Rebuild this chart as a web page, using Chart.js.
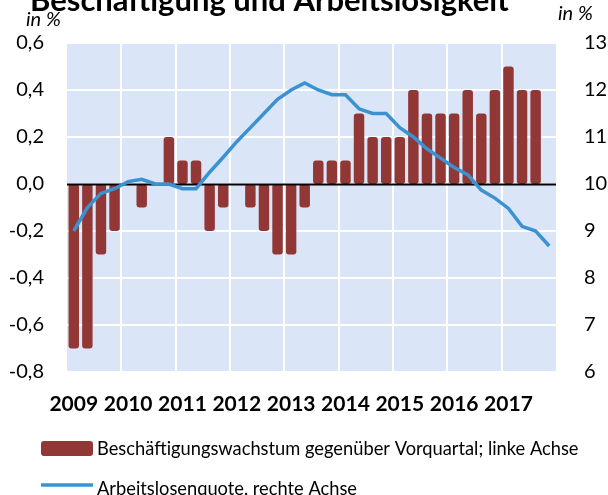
<!DOCTYPE html>
<html>
<head>
<meta charset="utf-8">
<script src="https://cdn.jsdelivr.net/npm/chart.js@4.4.1/dist/chart.umd.min.js"></script>
<style>
  html, body { margin: 0; padding: 0; background: #fff; }
  #wrap { position: relative; width: 608px; height: 495px; overflow: hidden; }
</style>
</head>
<body>
<div id="wrap"><canvas id="chart" width="608" height="495"></canvas></div>
<script>
// ================= Data =================
const quarters = [
  '2009Q1','2009Q2','2009Q3','2009Q4','2010Q1','2010Q2','2010Q3','2010Q4',
  '2011Q1','2011Q2','2011Q3','2011Q4','2012Q1','2012Q2','2012Q3','2012Q4',
  '2013Q1','2013Q2','2013Q3','2013Q4','2014Q1','2014Q2','2014Q3','2014Q4',
  '2015Q1','2015Q2','2015Q3','2015Q4','2016Q1','2016Q2','2016Q3','2016Q4',
  '2017Q1','2017Q2','2017Q3','2017Q4'
];
// Beschäftigungswachstum gegenüber Vorquartal (linke Achse, in %)
const employmentGrowth = [
  -0.7, -0.7, -0.3, -0.2,  0.0, -0.1,  0.0,  0.2,
   0.1,  0.1, -0.2, -0.1,  0.0, -0.1, -0.2, -0.3,
  -0.3, -0.1,  0.1,  0.1,  0.1,  0.3,  0.2,  0.2,
   0.2,  0.4,  0.3,  0.3,  0.3,  0.4,  0.3,  0.4,
   0.5,  0.4,  0.4, null
];
// Arbeitslosenquote (rechte Achse, in %)
const unemploymentRate = [
   9.0,  9.5,  9.8,  9.9, 10.05, 10.1, 10.0, 10.0,
   9.9,  9.9, 10.25, 10.57, 10.9, 11.2, 11.5, 11.8,
  12.0, 12.15, 12.0, 11.9, 11.9, 11.6, 11.5, 11.5,
  11.2, 11.0, 10.75, 10.55, 10.35, 10.2, 9.87, 9.7,
   9.48, 9.1, 9.0, 8.68
];
const leftTicks = { min: -0.8, max: 0.6, step: 0.2 };
const rightTicks = { min: 6, max: 13, step: 1 };

const titleText = 'Beschäftigung und Arbeitslosigkeit';
const unitText = 'in %';
const barLabel = 'Beschäftigungswachstum gegenüber Vorquartal; linke Achse';
const lineLabel = 'Arbeitslosenquote, rechte Achse';

const BAR_COLOR = '#913735';
const LINE_COLOR = '#3a92d0';
const PLOT_BG = '#dbe5f8';
const FONT = 'Lato, "DejaVu Sans", sans-serif';

// ================= Plugins =================
const plotBackground = {
  id: 'plotBackground',
  beforeDraw(chart) {
    const { ctx, chartArea: a } = chart;
    ctx.save();
    ctx.fillStyle = PLOT_BG;
    ctx.fillRect(a.left, a.top, a.right - a.left, a.bottom - a.top);
    ctx.restore();
  }
};

// zero line over the bars, under the line
const zeroLine = {
  id: 'zeroLine',
  afterDatasetDraw(chart, args) {
    if (args.index !== 0) return;
    const { ctx, chartArea: a } = chart;
    const y = Math.round(chart.scales.y.getPixelForValue(0)) + 0.5;
    ctx.save();
    ctx.strokeStyle = '#000';
    ctx.lineWidth = 2;
    ctx.beginPath();
    ctx.moveTo(a.left, y);
    ctx.lineTo(a.right, y);
    ctx.stroke();
    ctx.restore();
  }
};

const textsAndLegend = {
  id: 'textsAndLegend',
  afterDraw(chart) {
    const ctx = chart.ctx;
    ctx.save();
    ctx.fillStyle = '#000';
    ctx.textBaseline = 'alphabetic';

    // title (cut off at the top like the original)
    ctx.font = 'bold 31px ' + FONT;
    ctx.textAlign = 'left';
    ctx.fillText(titleText, 30, 11);

    // units
    ctx.font = 'italic 20px ' + FONT;
    ctx.fillText(unitText, 26, 26);
    ctx.fillText(unitText, 558, 20);

    // legend
    const bar = chart.data.datasets[0];
    const line = chart.data.datasets[1];
    ctx.fillStyle = bar.backgroundColor;
    ctx.beginPath();
    ctx.roundRect(41, 441, 52, 15, 3);
    ctx.fill();

    ctx.strokeStyle = line.borderColor;
    ctx.lineWidth = 3.5;
    ctx.beginPath();
    ctx.moveTo(41, 485);
    ctx.lineTo(93, 485);
    ctx.stroke();

    ctx.fillStyle = '#000';
    ctx.font = '18.3px ' + FONT;
    ctx.textBaseline = 'middle';
    ctx.fillText(bar.label, 97, 449);
    ctx.fillText(line.label, 97, 489);
    ctx.restore();
  }
};

// ================= Chart =================
const ctx = document.getElementById('chart').getContext('2d');

new Chart(ctx, {
  data: {
    labels: quarters,
    datasets: [
      {
        type: 'bar',
        label: barLabel,
        data: employmentGrowth,
        yAxisID: 'y',
        backgroundColor: BAR_COLOR,
        borderWidth: 0,
        borderRadius: 3,
        borderSkipped: false,
        categoryPercentage: 1,
        barPercentage: 0.77,
        order: 2
      },
      {
        type: 'line',
        label: lineLabel,
        data: unemploymentRate,
        yAxisID: 'y1',
        borderColor: LINE_COLOR,
        backgroundColor: LINE_COLOR,
        borderWidth: 3.5,
        tension: 0,
        pointRadius: 0,
        fill: false,
        order: 1
      }
    ]
  },
  options: {
    responsive: false,
    animation: false,
    devicePixelRatio: 1,
    layout: { padding: { top: 43, left: 0, right: 0, bottom: 0 } },
    plugins: {
      legend: { display: false },
      tooltip: { enabled: false },
      title: { display: false }
    },
    scales: {
      x: {
        type: 'category',
        offset: true,
        afterFit(scale) { scale.height = 123; },
        border: { display: false },
        grid: {
          offset: true,
          drawTicks: false,
          lineWidth: 2,
          color(c) {
            return c.index > 0 && c.index < quarters.length && c.index % 4 === 0 ? '#ffffff' : 'rgba(0,0,0,0)';
          }
        },
        ticks: {
          autoSkip: false,
          maxRotation: 0,
          minRotation: 0,
          padding: 20,
          color: '#000',
          font: { family: FONT, size: 21, weight: 'bold' },
          callback(value) {
            const q = quarters[value];
            return q.endsWith('Q1') ? q.slice(0, 4) : '';
          }
        }
      },
      y: {
        position: 'left',
        min: leftTicks.min,
        max: leftTicks.max,
        afterFit(scale) { scale.width = 67; },
        border: { display: false },
        grid: { color: '#ffffff', lineWidth: 2, drawTicks: false },
        ticks: {
          stepSize: leftTicks.step,
          padding: 23,
          color: '#000',
          font: { family: FONT, size: 20 },
          callback(value) {
            const v = Math.abs(value) < 1e-9 ? 0 : value;
            return v.toFixed(1).replace('.', ',');
          }
        }
      },
      y1: {
        position: 'right',
        min: rightTicks.min,
        max: rightTicks.max,
        afterFit(scale) { scale.width = 52; },
        border: { display: false },
        grid: { display: false, drawTicks: false },
        ticks: {
          stepSize: rightTicks.step,
          padding: 28,
          color: '#000',
          font: { family: FONT, size: 20 }
        }
      }
    }
  },
  plugins: [plotBackground, zeroLine, textsAndLegend]
});
</script>
</body>
</html>
